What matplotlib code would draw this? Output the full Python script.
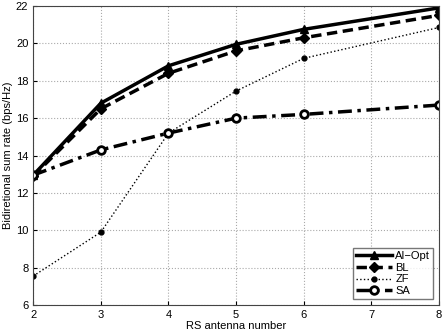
import matplotlib
matplotlib.use('Agg')
import matplotlib.pyplot as plt

# RS antenna numbers (no sample at 7)
antennas = [2, 3, 4, 5, 6, 8]

# sum rate in bps/Hz
ai_opt = [12.95, 16.8, 18.8, 19.95, 20.75, 21.9]
bl = [12.9, 16.5, 18.4, 19.6, 20.3, 21.5]
zf = [7.55, 9.9, 15.2, 17.45, 19.2, 20.85]
sa = [12.95, 14.3, 15.2, 16.0, 16.2, 16.7]

plt.rcParams['font.family'] = ['Liberation Sans', 'DejaVu Sans']
plt.rcParams['font.size'] = 8

fig = plt.figure(figsize=(4.43, 3.33), dpi=100)
ax = fig.add_axes([0.075, 0.084, 0.916, 0.898])

ax.plot(antennas, ai_opt, 'k-^', lw=2.5, ms=6, label='AI\u2212Opt')
ax.plot(antennas, bl, 'k--D', lw=2.5, ms=5, dashes=(3, 1.6), label='BL')
ax.plot(antennas, zf, 'k:o', lw=1, ms=3.5, label='ZF')
ax.plot(antennas, sa, 'k-.o', lw=2.5, ms=5.5, mfc='white', mew=2, dashes=(4, 1.6, 1, 1.6), label='SA')

ax.set_xlim(2, 8)
ax.set_ylim(6, 22)
ax.set_xticks(range(2, 9))
ax.set_yticks(range(6, 23, 2))
ax.grid(True, linestyle=':', color='#aaaaaa', lw=0.8)
ax.tick_params(direction='in', length=3)
for s in ax.spines.values():
    s.set_color('#444444')
ax.set_xlabel('RS antenna number', labelpad=1)
ax.set_ylabel('Bidiretional sum rate (bps/Hz)', labelpad=2)

leg = ax.legend(loc='lower right', fancybox=False, edgecolor='#555555', handlelength=3.2,
                borderpad=0.3, labelspacing=0.15, handletextpad=0.3, borderaxespad=0.5)
leg.get_frame().set_linewidth(1)

fig.savefig('out.png', dpi=100)
